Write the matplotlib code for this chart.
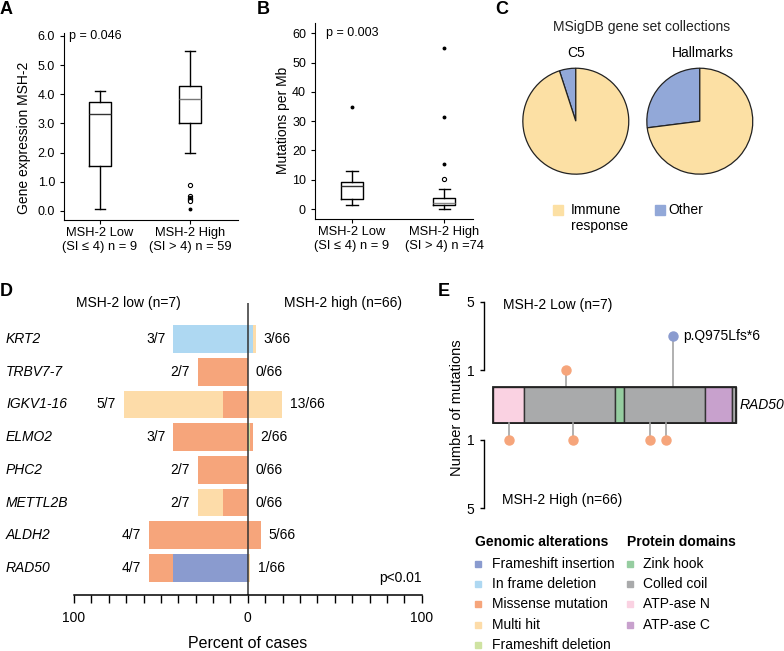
import matplotlib
matplotlib.use('Agg')
import matplotlib.pyplot as plt
from matplotlib.patches import Rectangle
import numpy as np

plt.rcParams['font.family'] = ['Liberation Sans', 'DejaVu Sans']

W, H = 784, 651
fig = plt.figure(figsize=(W / 100, H / 100), dpi=100)


def px_axes(x0, y0, x1, y1, **kw):
    return fig.add_axes([x0 / W, 1 - y1 / H, (x1 - x0) / W, (y1 - y0) / H], **kw)


# ---------------- data ----------------
# Panel A: MSH-2 expression (box statistics)
ab_groups_A = ["MSH-2 Low\n(SI \u2264 4) n = 9", "MSH-2 High\n(SI > 4) n = 59"]
expr_whislo = [0.05, 2.0]
expr_q1 = [1.55, 3.0]
expr_med = [3.33, 3.85]
expr_q3 = [3.72, 4.3]
expr_whishi = [4.1, 5.5]
expr_outliers = [[], [0.88, 0.5, 0.45, 0.42, 0.38, 0.34]]
expr_extremes = [[], [0.07]]
p_A = "p = 0.046"

# Panel B: mutations per Mb
ab_groups_B = ["MSH-2 Low\n(SI \u2264 4) n = 9", "MSH-2 High\n(SI > 4) n =74"]
tmb_whislo = [1.37, 0.0]
tmb_q1 = [3.4, 1.25]
tmb_med = [8.0, 2.2]
tmb_q3 = [9.1, 3.65]
tmb_whishi = [13.1, 6.95]
tmb_outliers = [[], [10.25]]
tmb_extremes = [[35.0], [15.3, 31.5, 54.8]]
p_B = "p = 0.003"

# Panel C: MSigDB collections (percent)
pie_names = ["C5", "Hallmarks"]
pie_other = [5, 27]
pie_immune = [95, 73]

# Panel D: alterations per gene
genes = ["KRT2", "TRBV7-7", "IGKV1-16", "ELMO2", "PHC2", "METTL2B", "ALDH2", "RAD50"]
n_low, n_high = 7, 66
low_fs_ins = [0, 0, 0, 0, 0, 0, 0, 3]
low_inframe = [3, 0, 0, 0, 0, 0, 0, 0]
low_fs_del = [0, 0, 0, 0, 0, 0, 0, 0]
low_missense = [0, 2, 1, 3, 2, 1, 4, 1]
low_multi = [0, 0, 4, 0, 0, 1, 0, 0]
high_fs_ins = [0, 0, 0, 0, 0, 0, 0, 0]
high_inframe = [2, 0, 0, 0, 0, 0, 0, 0]
high_fs_del = [0, 0, 0, 1, 0, 0, 0, 0]
high_missense = [0, 0, 0, 1, 0, 0, 5, 0]
high_multi = [1, 0, 13, 0, 0, 0, 0, 1]
p_D = "p<0.01"

alt_names = ["Frameshift insertion", "In frame deletion", "Missense mutation",
             "Multi hit", "Frameshift deletion"]
alt_colors = ["#8A9BCF", "#AED8F2", "#F6A57B", "#FDDCA9", "#CFE3A2"]

# Panel E: RAD50 lollipop
protein_length = 1312
domain_names = ["ATP-ase N", "Colled coil", "Zink hook", "Colled coil", "ATP-ase C", "Colled coil"]
domain_starts = [0, 168, 657, 708, 1148, 1294]
domain_ends = [168, 657, 708, 1148, 1294, 1312]
domain_legend = ["Zink hook", "Colled coil", "ATP-ase N", "ATP-ase C"]
domain_colors = {"ATP-ase N": "#FAD2E2", "Colled coil": "#A9AAAB",
                 "Zink hook": "#96CDA0", "ATP-ase C": "#C8A1CD"}
low_mut_pos = [394, 975]
low_mut_count = [1, 3]
low_mut_type = ["Missense mutation", "Frameshift insertion"]
high_mut_pos = [87, 433, 848, 935]
high_mut_count = [1, 1, 1, 1]
high_mut_type = ["Missense mutation"] * 4
mut_label = "p.Q975Lfs*6"

# ---------------- overlay for free text ----------------
ov = fig.add_axes([0, 0, 1, 1], zorder=-1)
ov.set_xlim(0, W)
ov.set_ylim(H, 0)
ov.axis('off')

for lab, x, y in [("A", 0, 10), ("B", 257, 10), ("C", 495, 10), ("D", 0, 292), ("E", 438, 292)]:
    ov.text(x, y, lab, fontsize=13, fontweight='bold', ha='left', va='center')


def draw_box(ax, whislo, q1, med, q3, whishi, outl, extr, medcolors):
    stats = []
    for i in range(2):
        stats.append(dict(whislo=whislo[i], q1=q1[i], med=med[i], q3=q3[i],
                          whishi=whishi[i], fliers=outl[i]))
    art = ax.bxp(stats, positions=[1, 2], widths=0.24, showfliers=True,
                 boxprops=dict(color='black', linewidth=1.0),
                 whiskerprops=dict(color='black', linewidth=1.0),
                 capprops=dict(color='black', linewidth=1.0),
                 flierprops=dict(marker='o', markersize=3, markerfacecolor='white',
                                 markeredgecolor='black', markeredgewidth=0.8))
    for m, c in zip(art['medians'], medcolors):
        m.set_color(c)
        m.set_linewidth(1.0)
    for i in range(2):
        if extr[i]:
            ax.plot([i + 1] * len(extr[i]), extr[i], 'o', color='black',
                    markersize=1.8, linestyle='none')
    for s in ['top', 'right']:
        ax.spines[s].set_visible(False)
    ax.tick_params(direction='out', length=3, width=0.8, labelsize=9)
    ax.tick_params(axis='x', pad=2, labelsize=9.3)


# ---------------- Panel A ----------------
axA = px_axes(64, 33.3, 238, 220)
draw_box(axA, expr_whislo, expr_q1, expr_med, expr_q3, expr_whishi,
         expr_outliers, expr_extremes, ['#333333', '#777777'])
axA.set_xlim(0.6, 2.533)
axA.set_ylim(-0.31, 6.09)
axA.set_yticks(np.arange(0, 6.5, 1.0))
axA.set_yticklabels([f"{v:.1f}" for v in np.arange(0, 6.5, 1.0)])
axA.set_xticks([1, 2])
axA.set_xticklabels(ab_groups_A, linespacing=1.25)
axA.text(0.66, 6.0, p_A, fontsize=9, ha='left', va='center')
ov.text(24, 137.5, "Gene expression MSH-2", rotation=90, fontsize=10, ha='center', va='center')

# ---------------- Panel B ----------------
axB = px_axes(315, 23.3, 473, 219)
draw_box(axB, tmb_whislo, tmb_q1, tmb_med, tmb_q3, tmb_whishi,
         tmb_outliers, tmb_extremes, ['#333333', '#888888'])
axB.set_xlim(0.6, 2.31)
axB.set_ylim(-3.4, 63.4)
axB.set_yticks(np.arange(0, 61, 10))
axB.set_xticks([1, 2])
axB.set_xticklabels(ab_groups_B, linespacing=1.25)
axB.text(0.72, 60, p_B, fontsize=9, ha='left', va='center')
ov.text(283, 120, "Mutations per Mb", rotation=90, fontsize=10, ha='center', va='center')

# ---------------- Panel C ----------------
ov.text(642, 27, "MSigDB gene set collections", fontsize=10, ha='center', va='center', color='#222222')
pie_boxes = [(522.3, 67.7, 629.3, 174.7), (646.3, 67.7, 753.3, 174.7)]
pie_title_x = [576, 703]
immune_color = "#FCE0A4"
other_color = "#92A8D8"
for i in range(2):
    axp = px_axes(*pie_boxes[i])
    axp.pie([pie_other[i], pie_immune[i]], colors=[other_color, immune_color],
            startangle=90, counterclock=True, radius=1,
            wedgeprops=dict(edgecolor='#222222', linewidth=0.9))
    axp.set_xlim(-1.01, 1.01)
    axp.set_ylim(-1.01, 1.01)
    axp.set_aspect('equal')
    axp.axis('off')
    ov.text(pie_title_x[i], 53, pie_names[i], fontsize=10, ha='center', va='center')
ov.plot([557.7], [209.7], 's', color=immune_color, markersize=6.5)
ov.text(571, 218.2, "Immune\nresponse", fontsize=10, ha='left', va='center', linespacing=1.2)
ov.plot([660], [209.7], 's', color=other_color, markersize=6.5)
ov.text(668.3, 209.7, "Other", fontsize=10, ha='left', va='center')

# ---------------- Panel D ----------------
axD = px_axes(74, 303, 421.7, 595)
axD.set_xlim(-100, 100)
axD.set_ylim(7.825, -1.1)
rows = np.arange(len(genes))
low_stack = [low_fs_ins, low_inframe, low_fs_del, low_missense, low_multi]
high_stack = [high_fs_ins, high_inframe, high_fs_del, high_missense, high_multi]
stack_colors = [alt_colors[0], alt_colors[1], alt_colors[4], alt_colors[2], alt_colors[3]]
cum_low = np.zeros(len(genes))
cum_high = np.zeros(len(genes))
for vals_l, vals_h, col in zip(low_stack, high_stack, stack_colors):
    pl = np.array(vals_l) / n_low * 100
    ph = np.array(vals_h) / n_high * 100
    axD.barh(rows, -pl, left=-cum_low, height=0.85, color=col, linewidth=0)
    axD.barh(rows, ph, left=cum_high, height=0.85, color=col, linewidth=0)
    cum_low += pl
    cum_high += ph
tot_low = np.sum(low_stack, axis=0)
tot_high = np.sum(high_stack, axis=0)
for r in rows:
    axD.text(-cum_low[r] - 4.6, r, f"{tot_low[r]}/{n_low}", fontsize=10, ha='right', va='center')
    axD.text(cum_high[r] + 4.3, r, f"{tot_high[r]}/{n_high}", fontsize=10, ha='left', va='center')
    axD.text(-0.1956, r, genes[r], transform=axD.get_yaxis_transform(), fontsize=10,
             style='italic', ha='left', va='center')
axD.axvline(0, color='#333333', linewidth=1.1)
axD.text(-68.9, -1.1, "MSH-2 low (n=7)", fontsize=10, ha='center', va='center', clip_on=False)
axD.text(54.7, -1.1, "MSH-2 high (n=66)", fontsize=10, ha='center', va='center', clip_on=False)
axD.text(100, 7.3, p_D, fontsize=10, ha='right', va='center')
for s in ['top', 'right', 'left']:
    axD.spines[s].set_visible(False)
axD.spines['bottom'].set_linewidth(1.1)
axD.set_yticks([])
axD.set_xticks(np.arange(-100, 101, 10))
axD.set_xticklabels(["100" if v == -100 else ("0" if v == 0 else ("100" if v == 100 else ""))
                     for v in np.arange(-100, 101, 10)])
axD.tick_params(axis='x', direction='out', length=5.5, width=1.0, labelsize=10, pad=6)
axD.set_xlabel("Percent of cases", fontsize=11.5, labelpad=8)

# ---------------- Panel E ----------------
aa_px = (735.7 - 493.3) / protein_length
x_left_aa = (484.3 - 493.3) / aa_px
x_right_aa = (784 - 493.3) / aa_px

axU = px_axes(484.3, 301.9, 784, 387.3)
axM = px_axes(484.3, 387.3, 784, 422.7)
axL = px_axes(484.3, 422.7, 784, 508.1)
for ax in (axU, axM, axL):
    ax.set_xlim(x_left_aa, x_right_aa)
    ax.patch.set_alpha(0)
axU.set_ylim(0, 5)
axL.set_ylim(5, 0)
axM.set_ylim(0, 1)

for ax in (axU, axL):
    for s in ['top', 'right', 'bottom']:
        ax.spines[s].set_visible(False)
    ax.spines['left'].set_bounds(1, 5)
    ax.spines['left'].set_linewidth(1.0)
    ax.set_yticks([1, 5])
    ax.set_xticks([])
    ax.tick_params(axis='y', direction='out', length=3, width=1.0, labelsize=10, pad=4)

type_color = dict(zip(alt_names, alt_colors))
for ax, pos, cnt, typ in [(axU, low_mut_pos, low_mut_count, low_mut_type),
                          (axL, high_mut_pos, high_mut_count, high_mut_type)]:
    for p, c, t in zip(pos, cnt, typ):
        ax.plot([p, p], [0, c], color='#A3A3A3', linewidth=1.2, clip_on=False, zorder=1)
        ax.plot([p], [c], 'o', color=type_color[t], markersize=6.5, clip_on=False, zorder=2)
axU.annotate(mut_label, xy=(low_mut_pos[1], low_mut_count[1]), xytext=(7, 0),
             textcoords='offset points', fontsize=10, ha='left', va='center')
axU.text(51, 4.82, "MSH-2 Low (n=7)", fontsize=10, ha='left', va='center')
axL.text(45, 4.53, "MSH-2 High (n=66)", fontsize=10, ha='left', va='center')

axM.axis('off')
for name, s0, s1 in zip(domain_names, domain_starts, domain_ends):
    axM.broken_barh([(s0, s1 - s0)], (0, 1), facecolors=domain_colors[name],
                    edgecolor='#333333', linewidth=1.0)
axM.add_patch(Rectangle((0, 0), protein_length, 1, fill=False, edgecolor='#222222',
                        linewidth=1.3, clip_on=False))
axM.text(protein_length + 19, 0.5, "RAD50", fontsize=10, style='italic', ha='left', va='center')
ov.text(457, 407.5, "Number of mutations", rotation=90, fontsize=10.5, ha='center', va='center')

# legends E
ov.text(475, 541.7, "Genomic alterations", fontsize=10, fontweight='bold', ha='left', va='center')
leg_y = [564, 584, 604.3, 625, 645]
for name, col, y in zip(alt_names, alt_colors, leg_y):
    ov.plot([477.8], [y], 's', color=col, markersize=4.5)
    ov.text(492.3, y, name, fontsize=10, ha='left', va='center')
ov.text(627.3, 541.7, "Protein domains", fontsize=10, fontweight='bold', ha='left', va='center')
for name, y in zip(domain_legend, leg_y):
    ov.plot([630.3], [y], 's', color=domain_colors[name], markersize=4.5)
    ov.text(643.3, y, name, fontsize=10, ha='left', va='center')

fig.savefig("out.png", dpi=100)
